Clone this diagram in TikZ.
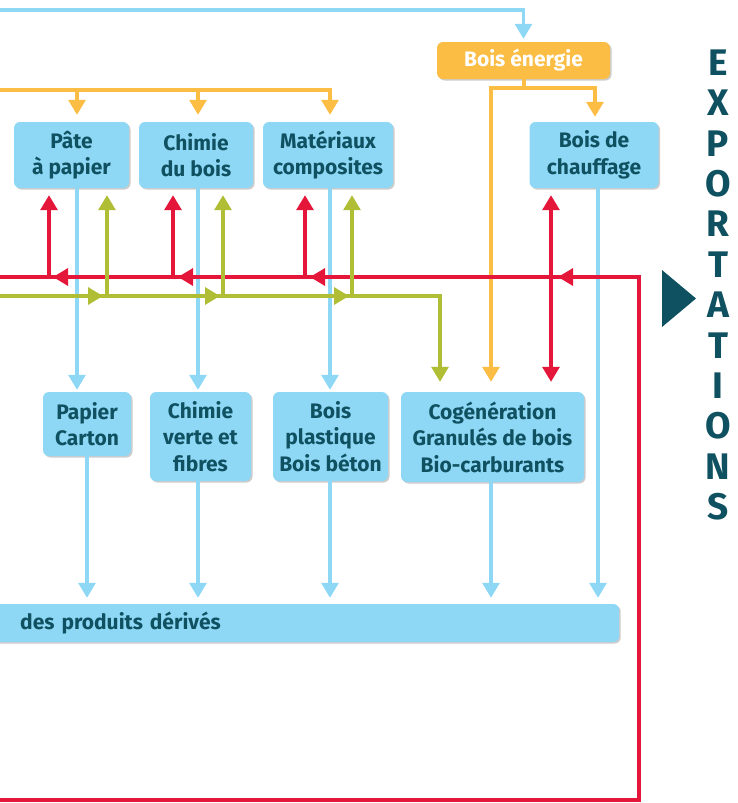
\documentclass[tikz,border=0pt]{standalone}
\usepackage{fontspec}
\setmainfont{Fira Sans}
\usetikzlibrary{arrows.meta,shadows}

\definecolor{bleu}{HTML}{8ED8F6}
\definecolor{jaune}{HTML}{FBBD44}
\definecolor{rouge}{HTML}{E4173A}
\definecolor{vert}{HTML}{AFBE35}
\definecolor{encre}{HTML}{0F5160}

\tikzset{
  boite/.style={fill=bleu,rounded corners=6pt,text=encre,align=center,inner sep=0pt,
    font=\bfseries\fontsize{21}{26.5}\selectfont,
    drop shadow={shadow xshift=1.5pt,shadow yshift=-1.5pt,opacity=.2,fill=black}},
  trait/.style={line width=3.2pt},
  fleche/.style={trait,-{Triangle[width=17pt,length=15pt]}},
  lettre/.style={text=encre,font=\bfseries\fontsize{37}{37}\selectfont,inner sep=0pt}
}

\begin{document}
\begin{tikzpicture}[x=1pt,y=-1pt]
  \useasboundingbox (0,0) rectangle (737,803);

  % boites
  \node[boite,fill=jaune,text=white,minimum width=173pt,minimum height=37pt] (energie) at (523.5,60.5) {Bois énergie};
  \node[boite,minimum width=115pt,minimum height=66pt] (pate) at (71.5,155) {Pâte\\à papier};
  \node[boite,minimum width=114pt,minimum height=66pt] (chimie) at (196,155) {Chimie\\du bois};
  \node[boite,minimum width=130pt,minimum height=66pt] (materiaux) at (328,155) {Matériaux\\composites};
  \node[boite,minimum width=129pt,minimum height=66pt] (chauffage) at (594,155) {Bois de\\chauffage};
  \node[boite,minimum width=88pt,minimum height=64pt] (papier) at (87,424) {Papier\\Carton};
  \node[boite,minimum width=101pt,minimum height=89pt] (verte) at (200.5,436.5) {Chimie\\verte et\\fibres};
  \node[boite,minimum width=115pt,minimum height=89pt] (plastique) at (330.5,436.5) {Bois\\plastique\\Bois béton};
  \node[boite,minimum width=183pt,minimum height=90pt] (cogen) at (492.5,437) {Cogénération\\Granulés de bois\\Bio-carburants};
  \node[boite,anchor=west,minimum height=38pt,text width=569pt,inner xsep=30pt,align=left] (derives) at (-10,623) {des produits dérivés};

  \foreach \l [count=\i] in {E,X,P,O,R,T,A,T,I,O,N,S}
    \node[lettre] (export\i) at (718,62.5+40.4*\i-40.4) {\l};
  \fill[encre] (662,270) -- (696,298.5) -- (662,327) -- cycle;

  % bleu
  \coordinate (entree) at (-5,10);
  \draw[fleche,bleu,shorten >=3pt] (entree) -| (energie.north);
  \foreach \n/\m/\x in {pate/papier/77,chimie/verte/198,materiaux/plastique/330}
    \draw[fleche,bleu,shorten >=2pt] (\n.south -| \x,0) -- (\m.north -| \x,0);
  \foreach \n/\x in {papier/87,verte/198,plastique/330,cogen/491,chauffage/598}
    \draw[fleche,bleu,shorten >=6pt] (\n.south -| \x,0) -- (derives.north -| \x,0);

  % jaune
  \coordinate (bois) at (-5,90);
  \coordinate (ej) at (524,88);
  \coordinate (ejg) at (491,88);
  \coordinate (ejd) at (595,88);
  \draw[trait,jaune] (bois) -- (331.6,90);
  \foreach \n/\x in {pate/77,chimie/198,materiaux/330}
    \draw[fleche,jaune,shorten >=7pt] (\x,90) -- (\n.north -| \x,0);
  \draw[trait,jaune] (energie.south -| ej) -- (ej);
  \draw[fleche,jaune,shorten >=5pt] (ej) -- (ejd) -- (chauffage.north -| ejd);
  \draw[fleche,jaune,shorten >=10pt] (ej) -- (ejg) -- (cogen.north -| ejg);

  % rouge
  \coordinate (r0) at (-5,277);
  \coordinate (r1) at (639,277);
  \coordinate (r2) at (639,800);
  \coordinate (r3) at (-5,800);
  \draw[trait,rouge] (r3) -- (r2) -- (r1) -- (r0);
  \foreach \x in {53,178,310,558}
    \draw[fleche,rouge] (\x+16,277) -- (\x,277);
  \foreach \x in {49,173,305}
    \draw[fleche,rouge,shorten >=7pt] (\x,277) -- (pate.south -| \x,0);
  \draw[trait,rouge,{Triangle[width=17pt,length=15pt]}-{Triangle[width=17pt,length=15pt]},shorten <=7pt,shorten >=10pt]
    (chauffage.south -| 551,0) -- (cogen.north -| 551,0);

  % vert
  \coordinate (v0) at (-5,296);
  \draw[fleche,vert,shorten >=10pt] (v0) -| (cogen.north -| 440,0);
  \foreach \x in {103,220,349}
    \draw[fleche,vert] (\x-16,296) -- (\x,296);
  \foreach \x in {107,223,352}
    \draw[fleche,vert,shorten >=7pt] (\x,296) -- (pate.south -| \x,0);
\end{tikzpicture}
\end{document}
